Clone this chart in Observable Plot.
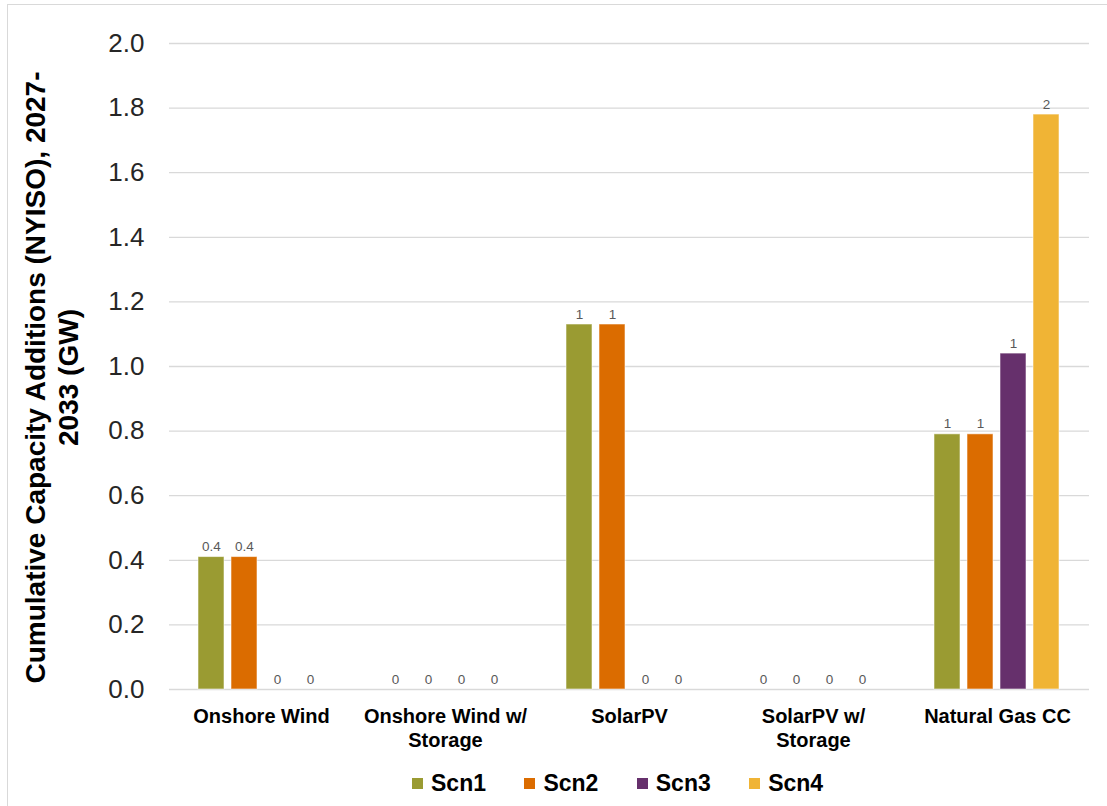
<!DOCTYPE html>
<html>
<head>
<meta charset="utf-8">
<script src="https://cdn.jsdelivr.net/npm/d3@7"></script>
<script src="https://cdn.jsdelivr.net/npm/@observablehq/plot@0.6"></script>
<style>
  html, body { margin: 0; padding: 0; background: #fff; overflow: hidden; width: 1107px; height: 806px; }
  #frame { position: absolute; left: 7px; top: 4px; width: 1200px; height: 900px;
           border-left: 1px solid #d9d9d9; border-top: 1px solid #d9d9d9; box-sizing: border-box; }
  #chart { position: absolute; left: 0; top: 0; }
  #legend { position: absolute; left: 412px; top: 770px; }
  #legend .lg-swatches { min-height: 26px; display: flex; align-items: center; flex-wrap: nowrap; }
  #legend .lg-swatch { width: 112.4px; margin-right: 0; display: inline-flex; align-items: center;
                       font-family: 'Liberation Sans', Arial, Helvetica, sans-serif; font-size: 23px; font-weight: bold; color: #000; }
  #legend .lg-swatch > svg { margin-right: 8px; }
</style>
</head>
<body>
<div id="frame"></div>
<div id="chart"></div>
<div id="legend"></div>
<script>
// ---- data ----
const categories = ["Onshore Wind", "Onshore Wind w/ Storage", "SolarPV", "SolarPV w/ Storage", "Natural Gas CC"];
const categoryLabels = ["Onshore Wind", "Onshore Wind w/\nStorage", "SolarPV", "SolarPV w/\nStorage", "Natural Gas CC"];
const scenarios = ["Scn1", "Scn2", "Scn3", "Scn4"];
const scn1 = [0.41, 0, 1.13, 0, 0.79];
const scn2 = [0.41, 0, 1.13, 0, 0.79];
const scn3 = [0, 0, 0, 0, 1.04];
const scn4 = [0, 0, 0, 0, 1.78];
const colors = ["#9A9B32", "#DB6C00", "#66306C", "#F0B435"];
const yTicks = [0, 0.2, 0.4, 0.6, 0.8, 1.0, 1.2, 1.4, 1.6, 1.8, 2.0];
const yTitle = "Cumulative Capacity Additions (NYISO), 2027-\n2033 (GW)";

// ---- table ----
const series = [scn1, scn2, scn3, scn4];
const rows = categories.flatMap((c, i) => scenarios.map((s, j) => ({category: c, scenario: s, value: series[j][i]})));
const fmt = v => v === 0 ? "0" : v < 0.5 ? d3.format(".1f")(v) : d3.format(".0f")(v);

const font = "'Liberation Sans', Arial, Helvetica, sans-serif";
const halfGap = 28;

const plot = Plot.plot({
  width: 1107,
  height: 760,
  marginLeft: 169,
  marginRight: 18,
  marginTop: 43,
  marginBottom: 71,
  style: {fontFamily: font, background: "transparent", overflow: "visible"},
  fx: {domain: categories, paddingInner: 0.304, paddingOuter: 0.152, label: null},
  x: {domain: scenarios, paddingInner: 0.2, paddingOuter: 0, axis: null, label: null},
  y: {domain: [0, 2], label: null},
  color: {domain: scenarios, range: colors},
  marks: [
    Plot.ruleY(yTicks, {stroke: "#d9d9d9", strokeWidth: 1.3, insetLeft: -halfGap, insetRight: -halfGap}),
    Plot.barY(rows.filter(d => d.value > 0), {
      fx: "category", x: "scenario", y: "value", fill: "scenario",
      stroke: "#ffffff", strokeOpacity: 0.55, strokeWidth: 1
    }),
    Plot.text(rows, {
      fx: "category", x: "scenario", y: "value", text: d => fmt(d.value),
      lineAnchor: "bottom", dy: -6, fontSize: 13.5, fill: "#595959"
    }),
    Plot.axisY({ticks: yTicks, tickFormat: d3.format(".1f"), tickSize: 0, tickPadding: 53,
      fontSize: 26, fill: "#262626", label: null}),
    Plot.axisFx({anchor: "bottom", tickSize: 0, tickPadding: 16, fontSize: 20, fontWeight: "bold", fill: "#000",
      lineHeight: 1.2, tickFormat: c => categoryLabels[categories.indexOf(c)], label: null}),
    Plot.text([{t: yTitle, c: categories[0]}], {
      fx: "c", text: "t", frameAnchor: "left", textAnchor: "middle", rotate: -90, dx: -147, dy: 11,
      fontSize: 28, fontWeight: "bold", lineHeight: 1.18, fill: "#000"
    })
  ]
});
document.getElementById("chart").appendChild(plot);

const legend = plot.legend("color", {swatchSize: 11, className: "lg"});
document.getElementById("legend").appendChild(legend);
</script>
</body>
</html>
